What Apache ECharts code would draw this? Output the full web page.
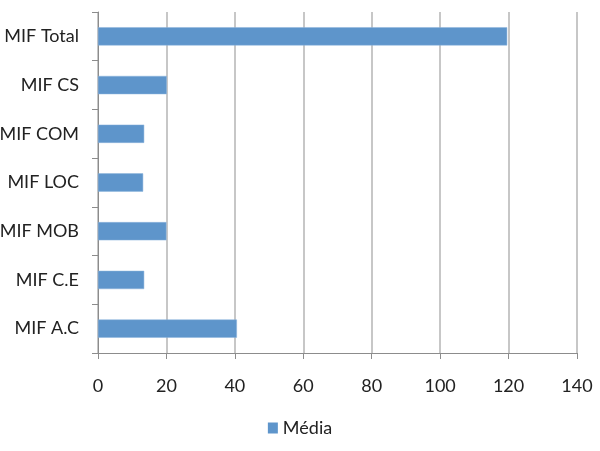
<!DOCTYPE html>
<html><head><meta charset="utf-8">
<script src="https://cdn.jsdelivr.net/npm/echarts@6/dist/echarts.min.js"></script>
<style>html,body{margin:0;padding:0;background:#fff}#c{width:600px;height:451px}</style>
</head><body><div id="c"></div>
<script>
const categories = ['MIF A.C','MIF C.E','MIF MOB','MIF LOC','MIF COM','MIF CS','MIF Total'];
const mediaValues = [40.6, 13.5, 20.0, 13.2, 13.5, 20.1, 119.6];
const seriesName = 'Média';
const xTicks = {min: 0, max: 140, interval: 20};

const chart = echarts.init(document.getElementById('c'));
const font = 'Lato, "Open Sans", sans-serif';
chart.setOption({
  animation: false,
  grid: {left: 98, right: 23, top: 12, bottom: 98, containLabel: false, outerBoundsMode: 'none'},
  legend: {
    data: [seriesName], bottom: 9, left: 'center',
    itemWidth: 10, itemHeight: 11, itemGap: 6,
    icon: 'rect',
    itemStyle: {borderWidth: 0},
    textStyle: {fontFamily: font, fontSize: 18, color: '#222'}
  },
  xAxis: {
    type: 'value', min: xTicks.min, max: xTicks.max, interval: xTicks.interval,
    axisLine: {show: true, lineStyle: {color: '#8c8c8c', width: 1}},
    axisTick: {show: true, length: 6, lineStyle: {color: '#8c8c8c'}},
    splitLine: {show: true, lineStyle: {color: '#b4b4b4', width: 1.5}},
    axisLabel: {fontFamily: font, fontSize: 18, color: '#222', margin: 24}
  },
  yAxis: {
    type: 'category', data: categories,
    axisLine: {show: true, lineStyle: {color: '#8c8c8c', width: 1}},
    axisTick: {show: true, length: 6, lineStyle: {color: '#8c8c8c'}},
    axisLabel: {fontFamily: font, fontSize: 18, color: '#222', margin: 19}
  },
  series: [{
    name: seriesName, type: 'bar', data: mediaValues,
    barWidth: '37.5%',
    itemStyle: {color: '#5e95cb', borderColor: '#8db4dc', borderWidth: 0.5}
  }]
});
</script></body></html>
